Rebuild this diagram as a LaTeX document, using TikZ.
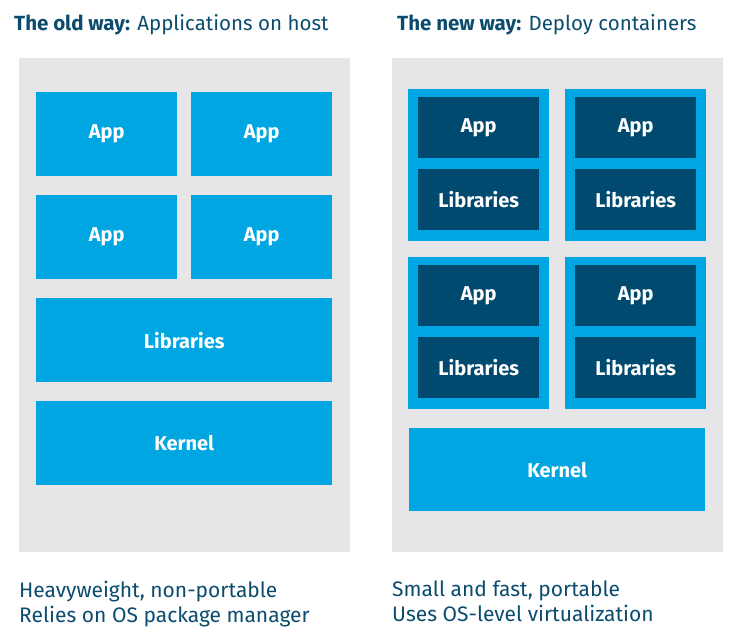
\documentclass[tikz,border=0pt]{standalone}
\usepackage{fontspec}
\setmainfont{Fira Sans}
\usetikzlibrary{positioning,calc}
\definecolor{lblue}{HTML}{00A6E2}
\definecolor{dblue}{HTML}{004A70}
\definecolor{panel}{HTML}{E6E6E8}
\definecolor{ttl}{HTML}{0B4C6E}
\tikzset{
	panel/.style={fill=panel,draw=none,anchor=north west,inner sep=0},
	box/.style={fill=lblue,draw=none,anchor=north west,inner sep=0,text=white,font=\fontsize{20}{22}\selectfont\bfseries},
	inbox/.style={fill=dblue,draw=none,anchor=north west,inner sep=0,text=white,minimum width=121pt,minimum height=61pt,font=\fontsize{20}{22}\selectfont\bfseries},
	ctr/.style={fill=lblue,draw=none,anchor=north west,inner sep=0,minimum width=141pt,minimum height=152pt},
	title/.style={anchor=west,inner sep=0,text=ttl,font=\fontsize{20.5}{24}\selectfont},
	note/.style={anchor=north west,inner sep=0,text=ttl,font=\fontsize{21}{25}\selectfont,align=left}
}
\begin{document}
\begin{tikzpicture}[x=1pt,y=-1pt]
	\useasboundingbox (0,0) rectangle (744,643);
	% headings
	\node[title] (T1) at (14,25) {\textbf{The old way:} Applications on host};
	\node[title] (T2) at (397,25) {\textbf{The new way:} Deploy containers};
	% panels
	\node[panel,minimum width=331pt,minimum height=494pt] (P1) at (19,58) {};
	\node[panel,minimum width=331pt,minimum height=494pt] (P2) at (392,58) {};
	% old way
	\node[box,minimum width=141pt,minimum height=84pt] (A1) at (36,92) {App};
	\node[box,minimum width=141pt,minimum height=84pt] (A2) at (191,92) {App};
	\node[box,minimum width=141pt,minimum height=84pt] (A3) at (36,195) {App};
	\node[box,minimum width=141pt,minimum height=84pt] (A4) at (191,195) {App};
	\node[box,minimum width=296pt,minimum height=84pt] (L1) at (36,298) {Libraries};
	\node[box,minimum width=296pt,minimum height=84pt] (K1) at (36,401) {Kernel};
	% new way
	\foreach \cx/\cy [count=\i] in {408/89,565/89,408/257,565/257}{
		\node[ctr] (C\i) at (\cx,\cy) {};
		\node[inbox] (CA\i) at (\cx+10,\cy+8) {App};
		\node[inbox] (CL\i) at (\cx+10,\cy+80) {Libraries};
	}
	\node[box,minimum width=296pt,minimum height=83pt] (K2) at (409,428) {Kernel};
	% captions
	\node[note] (N1) at (19,581) {Heavyweight, non-portable\\Relies on OS package manager};
	\node[note] (N2) at (392,581) {Small and fast, portable\\Uses OS-level virtualization};
\end{tikzpicture}
\end{document}
